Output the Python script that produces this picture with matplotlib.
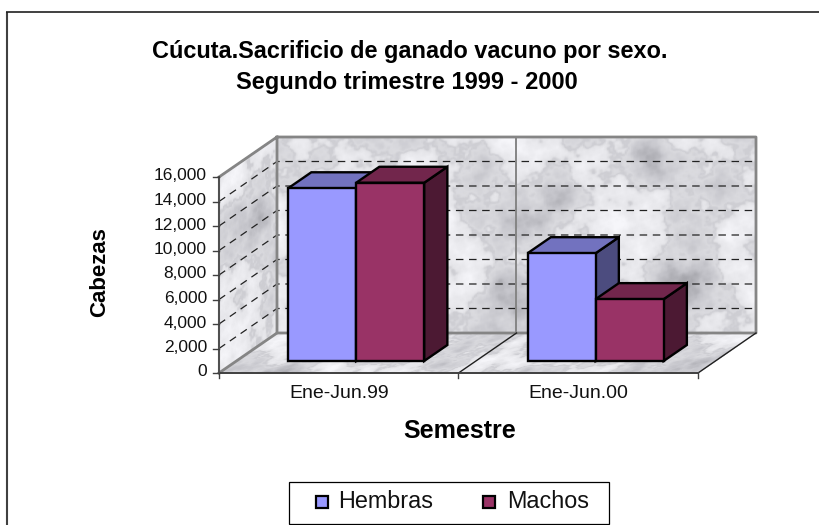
import numpy as np
import matplotlib
matplotlib.use("Agg")
import matplotlib.pyplot as plt
from matplotlib.colors import LinearSegmentedColormap
from matplotlib.patches import Polygon, Rectangle

plt.rcParams["font.family"] = ["Liberation Sans", "DejaVu Sans"]

# ---- data ----
categories = ["Ene-Jun.99", "Ene-Jun.00"]
hembras = [14100, 8800]
machos = [14550, 5050]
series_names = ["Hembras", "Machos"]
y_ticks = list(range(0, 16001, 2000))

title_lines = ["Cúcuta.Sacrificio de ganado vacuno por sexo.", "Segundo trimestre 1999 - 2000"]

# ---- colours ----
FRONT = ["#9999FF", "#993366"]
TOP = ["#7272BF", "#72264C"]
SIDE = ["#4C4C7F", "#4C1933"]
WALL = "#858585"
MARBLE = LinearSegmentedColormap.from_list("marble", ["#9A9AA0", "#C4C4CA", "#E2E2E6", "#F6F6FA"])

W, H = 820, 525
fig = plt.figure(figsize=(W / 100, H / 100), dpi=100)

# front plane of the 3d box, in pixels
L, R, TOP_PX, BOT = 219, 698, 177, 373
DX, DY = 58, 40  # pixel shift from front to back of the box

ax = fig.add_axes([L / W, 1 - BOT / H, (R - L) / W, (BOT - TOP_PX) / H])
ax.set_xlim(0, 2)
ax.set_ylim(0, 16000)
ax.axis("off")

sx = 2 / (R - L)
sy = 16000 / (BOT - TOP_PX)


def proj(x, y, d):
    # oblique projection, d=0 front, d=1 back
    return x + d * DX * sx, y + d * DY * sy


def marble(u, v, seed):
    # cloudy texture: layered sines at unrelated angles, with a ridge for the veins
    n = np.zeros_like(u)
    for k in range(1, 25):
        ang = k * 2.39996 + seed
        freq = 1.3 * 1.17 ** k
        n += np.sin(freq * (np.cos(ang) * u + np.sin(ang) * v) + k * k * 0.73 + seed) / freq ** 0.75
    n = n / n.std()
    ridge = np.exp(-(n / 0.22) ** 2)
    return np.clip(0.66 + 0.17 * n - 0.22 * ridge, 0, 1)


def panel(corner, du, dv, seed, scale, zorder=1):
    # corner + s*du + t*dv, all given as (x, y, d)
    s = np.linspace(0, 1, 321)
    t = np.linspace(0, 1, 201)
    S, T = np.meshgrid(s, t)
    X, Y = proj(corner[0] + S * du[0] + T * dv[0],
                corner[1] + S * du[1] + T * dv[1],
                corner[2] + S * du[2] + T * dv[2])
    ax.pcolormesh(X, Y, marble(scale[0] * S, scale[1] * T, seed), cmap=MARBLE, vmin=0, vmax=1,
                  shading="gouraud", zorder=zorder, clip_on=False, rasterized=True)


panel((0, 0, 1), (2, 0, 0), (0, 16000, 0), 0.9, (12.0, 5.0))   # back wall
panel((0, 0, 0), (0, 0, 1), (0, 16000, 0), 2.3, (2.5, 5.0))    # left wall
panel((0, 0, 0), (2, 0, 0), (0, 0, 1), 4.1, (14.0, 2.0))       # floor


def line3(pts, **kw):
    xs, ys = zip(*[proj(*p) for p in pts])
    ax.plot(xs, ys, clip_on=False, solid_capstyle="projecting", **kw)


# gridlines on walls
for v in y_ticks[1:]:
    line3([(0, v, 0), (0, v, 1), (2, v, 1)], color="#222222", lw=0.9, ls=(0, (6, 4.5)), zorder=2)

# wall outlines
line3([(0, 16000, 0), (0, 16000, 1), (2, 16000, 1), (2, 0, 1), (0, 0, 1), (0, 16000, 1)],
      color=WALL, lw=2.0, zorder=3)
line3([(0, 0, 0), (0, 0, 1)], color=WALL, lw=2.0, zorder=3)
line3([(1, 0, 1), (1, 16000, 1)], color=WALL, lw=1.4, zorder=3)
line3([(2, 0, 1), (2, 0, 0)], color="#202020", lw=1.0, zorder=3)
line3([(1, 0, 0), (1, 0, 1)], color="#202020", lw=1.0, zorder=3)
line3([(0, 0, 0), (2, 0, 0)], color="#404040", lw=1.4, zorder=3)

# axis ticks and labels
ax.plot([0, 0], [0, 16000], color="#505050", lw=1.5, clip_on=False, zorder=4)
for v in y_ticks:
    ax.plot([-6 * sx, 0], [v, v], color="#404040", lw=1.0, clip_on=False, zorder=4)
    ax.text(-12 * sx, v + 1 * sy, f"{v:,}", ha="right", va="center", fontsize=12.5, color="#111111")
for x in [0, 1, 2]:
    ax.plot([x, x], [0, -5 * sy], color="#404040", lw=1.0, clip_on=False, zorder=4)
for i, c in enumerate(categories):
    ax.text(i + 0.5, -20 * sy, c, ha="center", va="center", fontsize=14, color="#111111")

# bars
BAR_W = 0.284
D0, D1 = 0.3, 0.7


def bar3d(x, w, val, i, z):
    x0, x1 = x, x + w
    kw = dict(edgecolor="black", lw=1.7, joinstyle="miter", clip_on=False, zorder=z)
    side = [proj(x1, 0, D0), proj(x1, 0, D1), proj(x1, val, D1), proj(x1, val, D0)]
    top = [proj(x0, val, D0), proj(x1, val, D0), proj(x1, val, D1), proj(x0, val, D1)]
    front = [proj(x0, 0, D0), proj(x1, 0, D0), proj(x1, val, D0), proj(x0, val, D0)]
    ax.add_patch(Polygon(side, facecolor=SIDE[i], **kw))
    ax.add_patch(Polygon(top, facecolor=TOP[i], **kw))
    ax.add_patch(Polygon(front, facecolor=FRONT[i], **kw))


for g in range(len(categories)):
    start = g + 0.5 - BAR_W
    bar3d(start, BAR_W, hembras[g], 0, 5 + 2 * g)
    bar3d(start + BAR_W, BAR_W, machos[g], 1, 6 + 2 * g)

# chart frame and legend, in figure pixels
over = fig.add_axes([0, 0, 1, 1], zorder=10)
over.set_xlim(0, W)
over.set_ylim(H, 0)
over.axis("off")
over.plot([7, 7], [12, H], color="#404040", lw=1.5, solid_capstyle="butt")
over.plot([6, W], [12, 12], color="#202020", lw=1.2, solid_capstyle="butt")

over.add_patch(Rectangle((289, 482), 320, 41.5, facecolor="white", edgecolor="black", lw=0.9))
for name, col, bx, tx in zip(series_names, FRONT, [316, 483], [338, 507]):
    over.add_patch(Rectangle((bx, 496), 12, 12, facecolor=col, edgecolor="black", lw=1.6))
    over.text(tx, 501, name, ha="left", va="center", fontsize=16.8, color="#111111")

fig.text(410 / W, 1 - 51 / H, title_lines[0], ha="center", va="center", fontsize=16.9, fontweight="bold")
fig.text(406.5 / W, 1 - 83 / H, title_lines[1], ha="center", va="center", fontsize=17, fontweight="bold")
fig.text(100 / W, 1 - 272 / H, "Cabezas", ha="center", va="center", rotation=90, fontsize=16, fontweight="bold")
fig.text(460 / W, 1 - 431 / H, "Semestre", ha="center", va="center", fontsize=18, fontweight="bold")

fig.savefig("out.png", dpi=100)
